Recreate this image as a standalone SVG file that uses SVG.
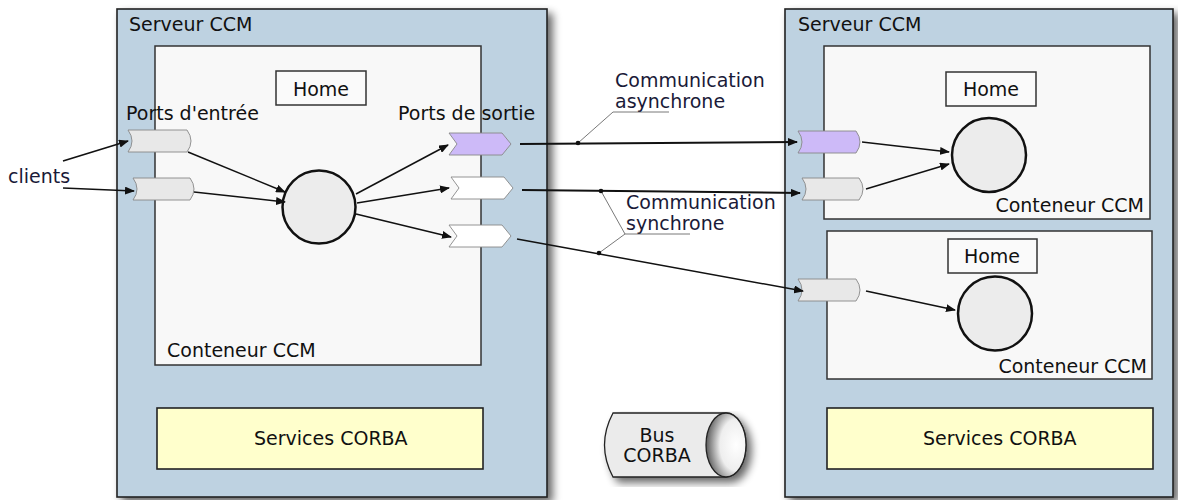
<svg xmlns="http://www.w3.org/2000/svg" width="1178" height="500" viewBox="0 0 1178 500">
<style>
text{font-family:"DejaVu Sans","Liberation Sans",sans-serif;font-size:19px;fill:#111}
.lbl{fill:#1a1a38}
.server{fill:#bed2e1;stroke:#222;stroke-width:1.6}
.cont{fill:#f8f8f8;stroke:#333;stroke-width:1.5}
.home{fill:#fafafa;stroke:#333;stroke-width:1.5}
.svc{fill:#ffffcc;stroke:#222;stroke-width:1.6}
.comp{fill:#ececec;stroke:#111;stroke-width:2.5}
.pin{fill:#e8e8e8;stroke:#888;stroke-width:0.9}
.pout{fill:#fff;stroke:#888;stroke-width:0.9}
.purple{fill:#cdbaf8}
.conn{stroke:#111;stroke-width:1.5;fill:none;marker-end:url(#arr)}
.thick{stroke-width:2}
.lead{stroke:#555;stroke-width:0.8;fill:none}
</style>
<defs>
<marker id="arr" markerWidth="10" markerHeight="8" refX="9" refY="4" orient="auto" markerUnits="userSpaceOnUse">
<path d="M0,0 L10,4 L0,8 Z" fill="#111"/>
</marker>
<filter id="sh" x="-10%" y="-10%" width="125%" height="125%">
<feGaussianBlur in="SourceAlpha" stdDeviation="4"/>
<feOffset dx="5" dy="5" result="b"/>
<feComponentTransfer><feFuncA type="linear" slope="0.6"/></feComponentTransfer>
<feMerge><feMergeNode/><feMergeNode in="SourceGraphic"/></feMerge>
</filter>
<radialGradient id="cyl" cx="0.75" cy="0.5" r="0.8">
<stop offset="0" stop-color="#fff"/>
<stop offset="0.5" stop-color="#eee"/>
<stop offset="1" stop-color="#444"/>
</radialGradient>
</defs>

<g id="server-left">
<rect class="server" x="117" y="9" width="430" height="488" filter="url(#sh)"/>
<text x="129" y="31">Serveur CCM</text>
</g>
<g id="container-left">
<rect class="cont" x="155" y="46" width="326" height="319"/>
<text x="167" y="357">Conteneur CCM</text>
</g>
<g id="home-left">
<rect class="home" x="276" y="71" width="90" height="34"/>
<text x="321" y="96" text-anchor="middle">Home</text>
</g>
<g id="services-left">
<rect class="svc" x="157" y="408" width="326" height="61"/>
<text x="254" y="445">Services CORBA</text>
</g>
<g id="component-left"><circle class="comp" cx="319" cy="207" r="36.5"/></g>
<g id="label-ports-in"><text x="126" y="120">Ports d'entrée</text></g>
<g id="label-ports-out"><text x="398" y="120">Ports de sortie</text></g>
<g id="in-port-1"><path class="pin" d="M128,130 L187,130 Q195,141 187,152 L128,152 Q136,141 128,130 Z"/></g>
<g id="in-port-2"><path class="pin" d="M133,178 L190,178 Q198,189 190,200 L133,200 Q141,189 133,178 Z"/></g>
<g id="out-port-1"><path class="pout purple" d="M449,133 L502,133 L511,144 L502,155 L449,155 L457,144 Z"/></g>
<g id="out-port-2"><path class="pout" d="M451,177 L504,177 L513,188 L504,199 L451,199 L459,188 Z"/></g>
<g id="out-port-3"><path class="pout" d="M449,225 L502,225 L511,236 L502,247 L449,247 L457,236 Z"/></g>

<g id="server-right">
<rect class="server" x="785" y="9" width="388" height="488" filter="url(#sh)"/>
<text x="798" y="31">Serveur CCM</text>
</g>
<g id="container-right-1">
<rect class="cont" x="824" y="46" width="326" height="173"/>
<text x="1144" y="212" text-anchor="end">Conteneur CCM</text>
</g>
<g id="home-right-1">
<rect class="home" x="946" y="72" width="90" height="34"/>
<text x="991" y="96" text-anchor="middle">Home</text>
</g>
<g id="component-right-1"><circle class="comp" cx="989" cy="155" r="37"/></g>
<g id="container-right-2">
<rect class="cont" x="827" y="231" width="325" height="148"/>
<text x="1147" y="373" text-anchor="end">Conteneur CCM</text>
</g>
<g id="home-right-2">
<rect class="home" x="948" y="239" width="89" height="34"/>
<text x="992" y="263" text-anchor="middle">Home</text>
</g>
<g id="component-right-2"><circle class="comp" cx="995" cy="313.5" r="37"/></g>
<g id="services-right">
<rect class="svc" x="827" y="408" width="326" height="61"/>
<text x="923" y="445">Services CORBA</text>
</g>
<g id="r-port-1"><path class="pin purple" d="M798,131 L856,131 Q864,142 856,153 L798,153 Q806,142 798,131 Z"/></g>
<g id="r-port-2"><path class="pin" d="M802,178 L859,178 Q867,189 859,200 L802,200 Q810,189 802,178 Z"/></g>
<g id="r-port-3"><path class="pin" d="M798,279 L856,279 Q864,290 856,301 L798,301 Q806,290 798,279 Z"/></g>

<g id="bus-corba">
<g filter="url(#sh)">
<path d="M613,413 L726,413 A20,32 0 0 1 726,477 L613,477 Q596,445 613,413 Z" fill="#ebebeb" stroke="#222" stroke-width="1.3"/>
</g>
<ellipse cx="726" cy="445" rx="20" ry="32" fill="url(#cyl)" stroke="#222" stroke-width="1.3"/>
<text x="657" y="442" text-anchor="middle">Bus</text>
<text x="657" y="462" text-anchor="middle">CORBA</text>
</g>

<g id="label-clients"><text class="lbl" x="8" y="183">clients</text></g>
<g id="label-async">
<text class="lbl" x="615" y="87">Communication</text>
<text class="lbl" x="615" y="108">asynchrone</text>
</g>
<g id="label-sync">
<text class="lbl" x="626" y="209">Communication</text>
<text class="lbl" x="626" y="230">synchrone</text>
</g>

<g id="connectors">
<line class="conn" x1="63" y1="161" x2="128" y2="141"/>
<line class="conn" x1="63" y1="188" x2="134" y2="191"/>
<line class="conn" x1="188" y1="152" x2="285" y2="192"/>
<line class="conn" x1="194" y1="192" x2="285" y2="202"/>
<line class="conn" x1="356" y1="194" x2="448" y2="145"/>
<line class="conn" x1="357" y1="203" x2="449" y2="188"/>
<line class="conn" x1="356" y1="214" x2="451" y2="237"/>
<line class="conn thick" x1="520" y1="144" x2="797" y2="142"/>
<line class="conn thick" x1="522" y1="190" x2="800" y2="193"/>
<line class="conn" x1="517" y1="239" x2="803" y2="291"/>
<line class="conn" x1="862" y1="142" x2="949" y2="152"/>
<line class="conn" x1="866" y1="189" x2="949" y2="164"/>
<line class="conn" x1="866" y1="291" x2="955" y2="310"/>
<polyline class="lead" points="669,112 613,112 578,143"/>
<circle cx="578" cy="143" r="2.3" fill="#111"/>
<polyline class="lead" points="690,234 625,234 601,191"/>
<line class="lead" x1="625" y1="234" x2="599" y2="253"/>
<circle cx="601" cy="191" r="2.3" fill="#111"/>
<circle cx="599" cy="253" r="2.3" fill="#111"/>
</g>
</svg>
